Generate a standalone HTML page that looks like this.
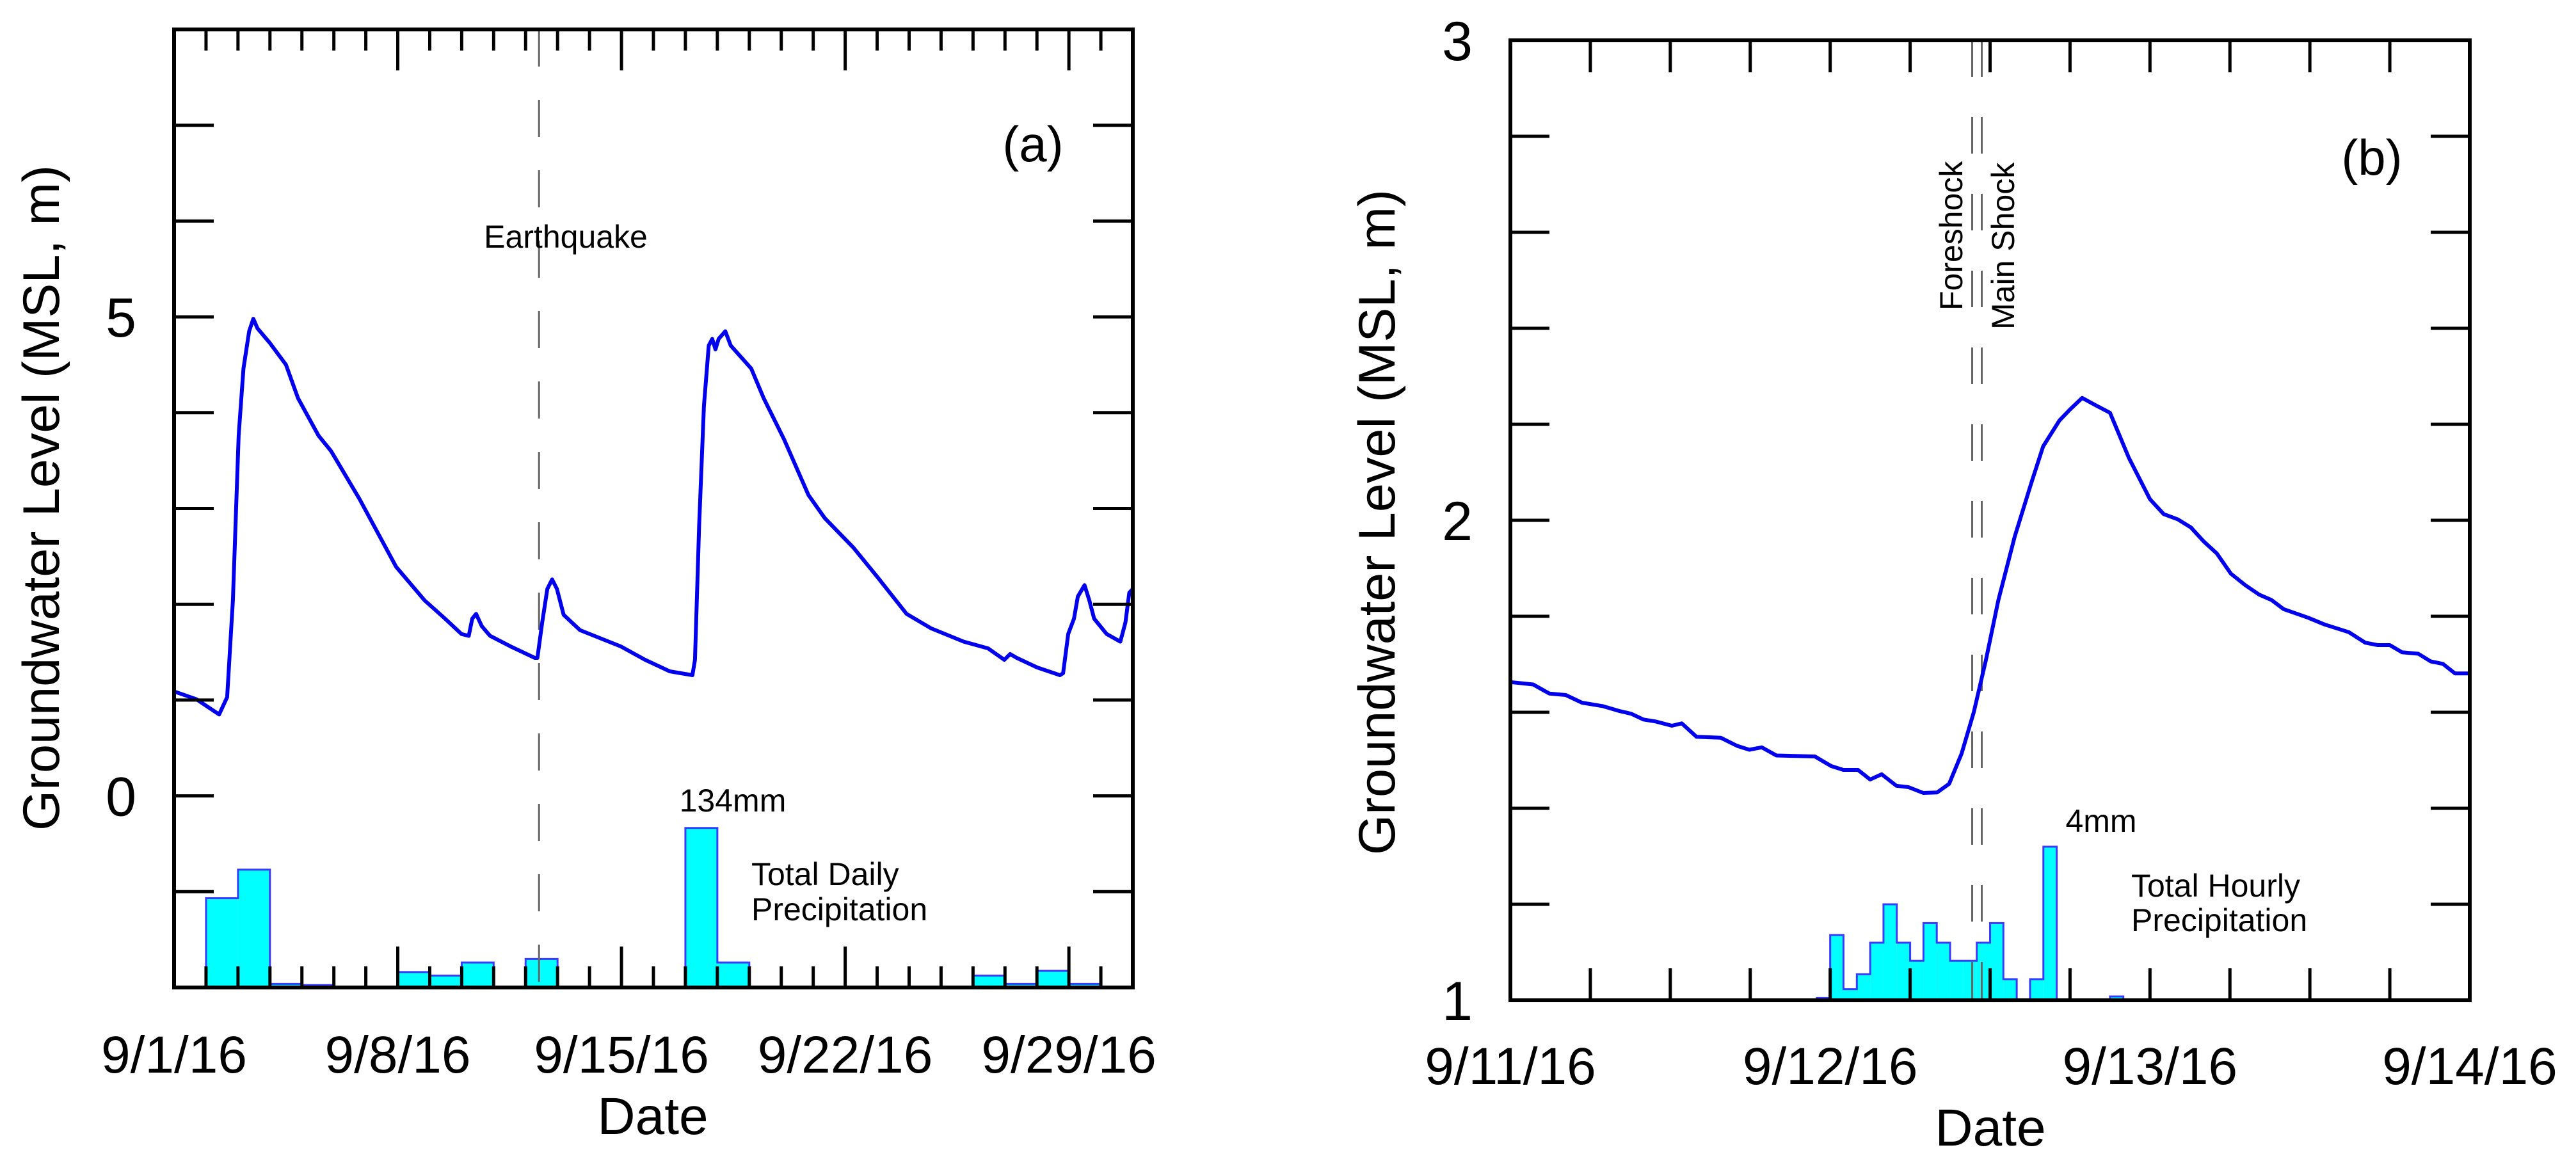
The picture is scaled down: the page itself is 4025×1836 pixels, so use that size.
<!DOCTYPE html>
<html><head><meta charset="utf-8"><style>
html,body{margin:0;padding:0;background:#fff}
svg{display:block}
text{font-family:"Liberation Sans",Arial,sans-serif;fill:#000}
</style></head><body>
<svg id="chart" width="4025" height="1836" viewBox="0 0 4025 1836" xmlns="http://www.w3.org/2000/svg">
<g id="pa"></g>
<g id="pb"></g>
<text x="92" y="778" font-size="81" text-anchor="middle" transform="rotate(-90 92 778)">Groundwater Level (MSL, m)</text>
<text x="1020" y="1772" font-size="82" text-anchor="middle">Date</text>
<text x="1614" y="252" font-size="78" text-anchor="middle">(a)</text>
<text x="884" y="387" font-size="50" text-anchor="middle">Earthquake</text>
<text x="1145" y="1268" font-size="50" text-anchor="middle">134mm</text>
<text x="1174" y="1383" font-size="50">Total Daily</text>
<text x="1174" y="1438" font-size="50">Precipitation</text>
<text x="2179" y="816" font-size="81" text-anchor="middle" transform="rotate(-90 2179 816)">Groundwater Level (MSL, m)</text>
<text x="3110" y="1790" font-size="82" text-anchor="middle">Date</text>
<text x="3706" y="273" font-size="78" text-anchor="middle">(b)</text>
<text x="3066" y="485" font-size="50" transform="rotate(-90 3066 485)">Foreshock</text>
<text x="3147" y="515" font-size="50" transform="rotate(-90 3147 515)">Main Shock</text>
<text x="3283" y="1300" font-size="50" text-anchor="middle">4mm</text>
<text x="3330" y="1401" font-size="50">Total Hourly</text>
<text x="3330" y="1455" font-size="50">Precipitation</text>
</svg>
<script>
// ---- Panel A data ----
const aTickLabels = ["9/1/16","9/8/16","9/15/16","9/22/16","9/29/16"];
const aTickDays = [0,7,14,21,28];
const aYLabels = ["0","5"];
const aYLabelVals = [0,5];
const aGwDays = [0,0.69,1.41,1.66,1.84,2.02,2.17,2.35,2.48,2.61,2.99,3.5,3.88,4.52,4.91,5.8,6.95,7.84,8.48,8.99,9.22,9.33,9.45,9.63,9.89,10.53,11.29,11.37,11.52,11.68,11.83,11.98,12.19,12.7,13.98,14.74,15.51,16.22,16.3,16.43,16.58,16.73,16.84,16.94,17.04,17.25,17.42,18.06,18.45,19.09,19.85,20.36,21.26,22.02,22.92,23.68,24.71,25.47,25.98,26.16,26.37,27.01,27.72,27.82,27.98,28.16,28.28,28.49,28.64,28.79,29.18,29.61,29.77,29.89,30];
const aGwLevel = [1.09,1.01,0.85,1.03,2.04,3.76,4.46,4.85,4.98,4.88,4.73,4.5,4.15,3.76,3.6,3.1,2.39,2.04,1.85,1.69,1.67,1.85,1.9,1.77,1.67,1.56,1.44,1.44,1.81,2.16,2.26,2.16,1.89,1.73,1.56,1.42,1.3,1.26,1.42,2.82,4.07,4.7,4.77,4.66,4.77,4.85,4.7,4.46,4.15,3.72,3.14,2.9,2.59,2.28,1.9,1.75,1.61,1.54,1.42,1.48,1.44,1.34,1.26,1.28,1.69,1.85,2.08,2.2,2.04,1.85,1.69,1.61,1.81,2.12,2.16];
const aPrecipDays = [1,2,3,4,7,8,9,11,16,17,25,26,27,28];
const aPrecipMm = [75,99,3,2,13,10,21,24,134,21,10,3,14,3];
const aQuakeDay = [11.42];
// ---- Panel B data ----
const bTickLabels = ["9/11/16","9/12/16","9/13/16","9/14/16"];
const bTickDays = [0,1,2,3];
const bYLabels = ["1","2","3"];
const bYLabelVals = [1,2,3];
const bGwDays = [0,0.071,0.122,0.173,0.224,0.288,0.339,0.378,0.416,0.454,0.505,0.536,0.582,0.658,0.709,0.747,0.786,0.832,0.952,1.003,1.041,1.087,1.125,1.161,1.207,1.245,1.291,1.334,1.372,1.411,1.449,1.487,1.526,1.577,1.628,1.666,1.717,1.75,1.788,1.832,1.875,1.934,2,2.043,2.087,2.128,2.168,2.209,2.253,2.298,2.342,2.38,2.418,2.495,2.546,2.622,2.673,2.712,2.75,2.788,2.839,2.878,2.916,2.954,3];
const bGwLevel = [1.663,1.658,1.639,1.636,1.62,1.613,1.603,1.597,1.585,1.581,1.572,1.577,1.549,1.547,1.53,1.522,1.527,1.51,1.508,1.488,1.48,1.48,1.46,1.471,1.447,1.444,1.432,1.433,1.451,1.514,1.6,1.709,1.834,1.966,2.076,2.154,2.208,2.231,2.255,2.239,2.224,2.13,2.044,2.013,2.002,1.985,1.956,1.931,1.889,1.865,1.845,1.834,1.815,1.797,1.783,1.767,1.745,1.74,1.74,1.725,1.722,1.706,1.701,1.681,1.681];
const bPrecipHours = [23,24,25,26,27,28,29,30,31,32,33,34,35,36,37,38,39,40,45];
const bPrecipMm = [0.06,1.7,0.29,0.68,1.5,2.5,1.5,1.03,2.01,1.5,1.03,1.03,1.5,2.01,0.55,0,0.55,4.0,0.1];
const bQuakeDays = [1.444,1.474];

const NS='http://www.w3.org/2000/svg';
function mk(parent,tag,attrs){const e=document.createElementNS(NS,tag);for(const k in attrs)e.setAttribute(k,attrs[k]);parent.appendChild(e);return e;}

function panel(g,cfg){
  const X=d=>cfg.L+(d-cfg.x0)/(cfg.x1-cfg.x0)*(cfg.R-cfg.L);
  const Y=v=>cfg.B-(v-cfg.y0)/(cfg.y1-cfg.y0)*(cfg.B-cfg.T);
  const P=m=>cfg.B-m/cfg.pMax*(cfg.B-cfg.T);
  const bars=mk(g,'g',{});
  
  
  let outline='';let prevEnd=null;let prevY=null;
  cfg.pIdx.forEach((i,k)=>{
    const x0=X(i*cfg.pW), x1=X((i+1)*cfg.pW), y=P(cfg.pVal[k]);
    const r=mk(bars,'rect',{x:x0,y:y,width:x1-x0,height:cfg.B-y,fill:'#00ffff'});
    
    
    if(prevEnd!==null && Math.abs(prevEnd-x0)<0.5){ outline+='L'+x0+','+y; }
    else { if(prevEnd!==null) outline+='L'+prevEnd+','+cfg.B; outline+='M'+x0+','+cfg.B+'L'+x0+','+y; }
    outline+='L'+x1+','+y; prevEnd=x1; prevY=y;
  });
  if(prevEnd!==null) outline+='L'+prevEnd+','+cfg.B;
  const ol=mk(bars,'path',{d:outline,fill:'none',stroke:'#3a3aff','stroke-width':3});
  
  
  cfg.quakes.forEach(q=>{
    const l=mk(g,'line',{x1:X(q),x2:X(q),y1:cfg.T,y2:cfg.B,stroke:'#666','stroke-width':3,'stroke-dasharray':cfg.dash});
    
    
  });
  let d='';cfg.gx.forEach((t,i)=>{d+=(i?'L':'M')+X(t).toFixed(1)+','+Y(cfg.gy[i]).toFixed(1);});
  const p=mk(g,'path',{d:d,fill:'none',stroke:'#0000ee','stroke-width':6,'stroke-linejoin':'round'});
  
  
  const tk=mk(g,'g',{stroke:'#000','stroke-width':5});
  
  
  for(let v=cfg.y0;v<=cfg.y1+1e-6;v+=cfg.yStep){
    const y=Y(v);
    mk(tk,'line',{x1:cfg.L,x2:cfg.L+cfg.yLen,y1:y,y2:y});
    mk(tk,'line',{x1:cfg.R,x2:cfg.R-cfg.yLen,y1:y,y2:y});
  }
  for(let t=cfg.x0;t<=cfg.x1+1e-6;t+=cfg.xStep){
    const x=X(t);const major=cfg.xMajor(t);const len=major?cfg.xLenMaj:cfg.xLenMin;
    mk(tk,'line',{x1:x,x2:x,y1:cfg.T,y2:cfg.T+len});
    mk(tk,'line',{x1:x,x2:x,y1:cfg.B,y2:cfg.B-len});
  }
  const fr=mk(g,'rect',{x:cfg.L,y:cfg.T,width:cfg.R-cfg.L,height:cfg.B-cfg.T,fill:'none',stroke:'#000','stroke-width':6});
  
  
  cfg.xl.forEach((s,i)=>{
    const t=mk(g,'text',{x:X(cfg.xlv[i]),y:cfg.xlY,'font-size':82,'text-anchor':'middle'});t.textContent=s;
    
    
  });
  cfg.yl.forEach((s,i)=>{
    const t=mk(g,'text',{x:cfg.ylX,y:Y(cfg.ylv[i])+31,'font-size':86,'text-anchor':'middle'});t.textContent=s;
    
    
  });
}

panel(document.getElementById('pa'),{L:272,R:1770,T:46,B:1543,x0:0,x1:30,y0:-2,y1:8,pMax:805,pW:1,
  pIdx:aPrecipDays,pVal:aPrecipMm,quakes:aQuakeDay,dash:'58 52',gx:aGwDays,gy:aGwLevel,
  yStep:1,yLen:62,xStep:1,xMajor:t=>Math.round(t)%7===0,xLenMaj:64,xLenMin:33,
  xl:aTickLabels,xlv:aTickDays,xlY:1676,yl:aYLabels,ylv:aYLabelVals,ylX:189});
panel(document.getElementById('pb'),{L:2360,R:3859,T:63,B:1563,x0:0,x1:3,y0:1,y1:3,pMax:25,pW:1/24,
  pIdx:bPrecipHours,pVal:bPrecipMm,quakes:bQuakeDays,dash:'57 63',gx:bGwDays,gy:bGwLevel,
  yStep:0.2,yLen:61,xStep:0.25,xMajor:t=>false,xLenMaj:50,xLenMin:50,
  xl:bTickLabels,xlv:bTickDays,xlY:1694,yl:bYLabels,ylv:bYLabelVals,ylX:2277});
</script>
</body></html>
